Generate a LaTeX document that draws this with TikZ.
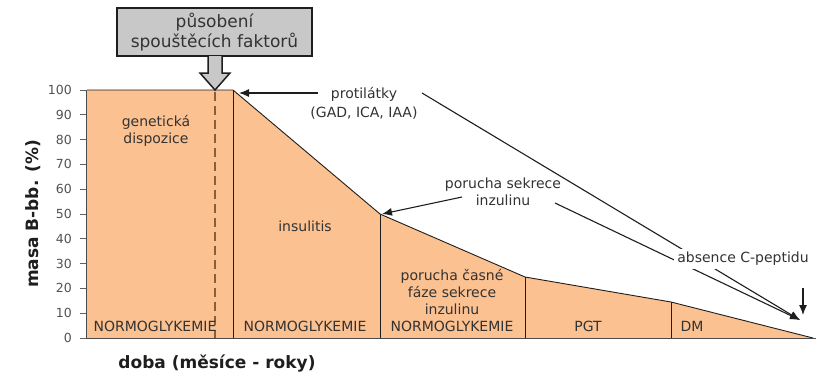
\documentclass[tikz,border=0pt]{standalone}
\usepackage{fontspec}
\setmainfont{DejaVu Sans}
\usetikzlibrary{arrows.meta,calc}
\definecolor{peach}{RGB}{251,193,145}
\definecolor{txt}{RGB}{51,51,51}
\definecolor{dashc}{RGB}{135,95,60}
\definecolor{boxgray}{RGB}{200,200,200}
\definecolor{ink}{RGB}{30,30,30}
\begin{document}
\begin{tikzpicture}[x=1pt,y=-1pt,
  lbl/.style={font=\fontsize{14}{16.8}\selectfont, text=txt, align=center, inner sep=0pt},
  ticklbl/.style={font=\fontsize{12.5}{14}\selectfont, text=txt!85, anchor=east, inner sep=0pt},
  axlbl/.style={font=\bfseries\fontsize{17}{19}\selectfont, text=ink, inner sep=0pt},
  outline/.style={draw=ink, line width=0.9pt},
  pointer/.style={draw=ink, line width=1.1pt, -{Latex[length=10pt,width=8pt]}},
  trigbox/.style={draw=ink, line width=2pt, fill=boxgray, minimum width=195pt, minimum height=48pt,
    font=\fontsize{17}{20}\selectfont, text=txt, align=center, inner sep=0pt}]
\useasboundingbox (0,0) rectangle (816,378);
% area
\fill[peach] (87,90) -- (233,90) -- (380,214) -- (525,277) -- (671,302) -- (813,338) -- (87,338) -- cycle;
% dashed trigger line
\draw[dashc, line width=2pt, dash pattern=on 9pt off 5pt] (215,92) -- (215,338);
% outline and dividers
\draw[outline] (87,90) -- (233,90) -- (380,214) -- (525,277) -- (671,302) -- (813,338);
\draw[outline] (233,90) -- (233,338);
\draw[outline] (380,214) -- (380,338);
\draw[outline] (525,277) -- (525,338);
\draw[outline] (671,302) -- (671,338);
% axes
\draw[ink!80, line width=1pt] (86,90) -- (86,338) -- (816,338);
\foreach \v in {0,10,...,100} {
  \draw[ink!70, line width=0.8pt] (80,{338-2.48*\v}) -- (86,{338-2.48*\v});
  \node[ticklbl] (t\v) at (72,{338-2.48*\v}) {\v};
}
\node[axlbl, rotate=90] (ylab) at (33,214) {masa B-bb. (\%)};
\node[axlbl] (xlab) at (217,364) {doba (měsíce - roky)};
% trigger box and hollow arrow
\node[trigbox] (trig) at (214.5,32) {působení\\spouštěcích faktorů};
\draw[draw=ink, line width=1.5pt, fill=boxgray, line join=miter]
  (208,56) -- (208,73) -- (200,73) -- (215,90) -- (230,73) -- (222,73) -- (222,56);
% region labels
\node[lbl] (gen) at (156,131) {genetická\\dispozice};
\node[lbl] (ins) at (305,226) {insulitis};
\node[lbl] (n1) at (155,326) {NORMOGLYKEMIE};
\node[lbl] (n2) at (305,326) {NORMOGLYKEMIE};
\node[lbl] (n3) at (452,300.5) {porucha časné\\fáze sekrece\\inzulinu\\NORMOGLYKEMIE};
\node[lbl] (pgt) at (588,326) {PGT};
\node[lbl] (dm) at (692,326) {DM};
% annotations
\node[lbl, font=\fontsize{14}{19}\selectfont] (prot) at (364,103) {protilátky\\(GAD, ICA, IAA)};
\node[lbl] (sekr) at (503,192) {porucha sekrece\\inzulinu};
\coordinate (protA) at (318,93);
\coordinate (topcorner) at (239,93);
\coordinate (sekrA) at (462,197);
\coordinate (midcorner) at (382,214);
\coordinate (protB) at (422,93);
\coordinate (sekrB) at (555,203);
\coordinate (endtip) at (800,320);
\coordinate (vtop) at (803,288);
\coordinate (vtip) at (803,315);
\draw[pointer] (protA) -- (topcorner);
\draw[pointer] (sekrA) -- (midcorner);
\draw[pointer] (protB) -- (endtip);
\draw[pointer] (sekrB) -- (endtip);
\draw[pointer] (vtop) -- (vtip);
\node[lbl, fill=white, inner sep=3pt] (absc) at (743,259) {absence C-peptidu};
\end{tikzpicture}
\end{document}
